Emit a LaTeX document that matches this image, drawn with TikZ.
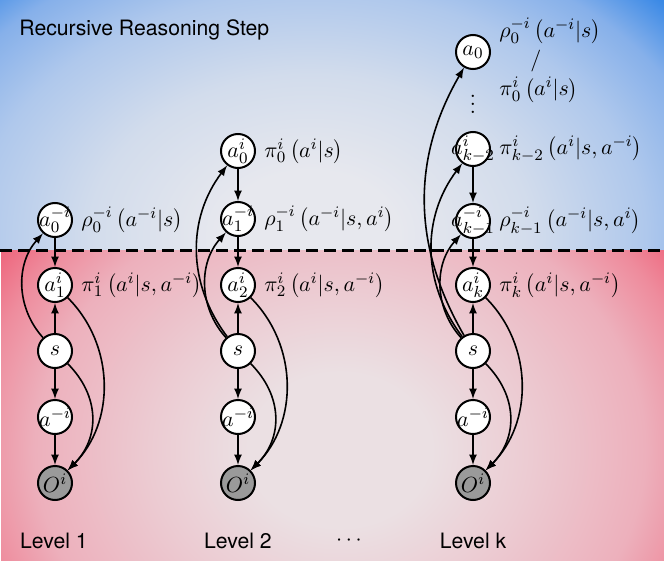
\documentclass[tikz,border=0pt,11pt]{standalone}
\usepackage{fontspec}
\setsansfont{TeX Gyre Heros}
\usetikzlibrary{positioning}

\definecolor{skyin}{HTML}{E7E8EE}
\definecolor{skylow}{HTML}{D2DCEC}
\definecolor{skymid}{HTML}{AFC8EC}
\definecolor{skyhigh}{HTML}{86B0EA}
\definecolor{skyout}{HTML}{3A89E6}
\definecolor{rosein}{HTML}{EBE0E3}
\definecolor{roselow}{HTML}{ECCBD2}
\definecolor{rosemid}{HTML}{EDB0BC}
\definecolor{rosehigh}{HTML}{EE8C9D}
\definecolor{roseout}{HTML}{EE5A73}
\definecolor{obsgray}{HTML}{9A9A9A}

\pgfdeclareradialshading{skyshade}{\pgfpoint{0bp}{0bp}}{%
  color(0bp)=(skyin); color(10bp)=(skyin); color(25bp)=(skylow);
  color(38bp)=(skymid); color(47bp)=(skyhigh); color(54bp)=(skyout);
  color(72bp)=(skyout)}
\pgfdeclareradialshading{roseshade}{\pgfpoint{0bp}{0bp}}{%
  color(0bp)=(rosein); color(12bp)=(rosein); color(25bp)=(roselow);
  color(40bp)=(rosemid); color(48bp)=(rosehigh); color(56bp)=(roseout);
  color(72bp)=(roseout)}

\newcommand{\inring}[1]{\makebox[0pt]{$#1$}}

\begin{document}
\begin{tikzpicture}
        [x=0.5pt,y=-0.5pt,
        nodedecorate/.style={shape=circle,inner sep=0pt,minimum size=17pt,draw,line width=1pt,fill=white},%
        observed/.style={nodedecorate,fill=obsgray},%
        arrowdecorate/.style={->,>=latex,thick},%
        leveltext/.style={font=\sffamily\fontsize{10.6}{13}\selectfont}]
        \useasboundingbox (0,0) rectangle (664,562);
        %% background
        \begin{scope}
          \clip (0,0) rectangle (664,250);
          \begin{scope}[shift={(310,235)},xscale=4.4,yscale=3.2]
            \node (skyglow) [transform shape,inner sep=0pt] at (0,0) {\pgfuseshading{skyshade}};
          \end{scope}
        \end{scope}
        \begin{scope}
          \clip (1,250) rectangle (664,560);
          \begin{scope}[shift={(340,450)},xscale=3.8,yscale=3.2]
            \node (roseglow) [transform shape,inner sep=0pt] at (0,0) {\pgfuseshading{roseshade}};
          \end{scope}
        \end{scope}
        \coordinate (splitwest) at (0,250);
        \coordinate (spliteast) at (664,250);
        \draw[line width=1.5pt,dash pattern=on 6pt off 3pt] (splitwest) -- (spliteast);

        %% nodes or vertices
        \foreach \nodename/\x/\y/\nodetext in {r10/55/220/{a_0^{-i}}, a11/55/285/{a_1^i},
          s1/55/351/s, m1/55/417/{a^{-i}}, a20/238/151/{a_0^i}, r21/238/219/{a_1^{-i}},
          a22/238/285/{a_2^i}, s2/238/351/s, m2/238/417/{a^{-i}}, ak0/473/52/{a_0},
          akk2/473/149/{a_{k-2}^i}, rkk1/473/221/{a_{k-1}^{-i}}, akk/473/285/{a_k^i},
          sk/473/351/s, mk/473/417/{a^{-i}}}
        {
          \node (\nodename) at (\x,\y) [nodedecorate] {\inring{\nodetext}};
        }
        \foreach \nodename/\x in {o1/55, o2/238, ok/473}
        {
          \node (\nodename) at (\x,483) [observed] {\inring{O^i}};
        }
        \node (vdots) at (473,98) [inner sep=0pt] {$\vdots$};

        %% policy labels
        \foreach \nodename/\labeltext in {r10/{$\rho_0^{-i}\left(a^{-i}|s\right)$},
          a11/{$\pi_1^i\left(a^i|s,a^{-i}\right)$}, a20/{$\pi_0^i\left(a^i|s\right)$},
          r21/{$\rho_1^{-i}\left(a^{-i}|s,a^i\right)$}, a22/{$\pi_2^i\left(a^i|s,a^{-i}\right)$},
          akk2/{$\pi_{k-2}^i\left(a^i|s,a^{-i}\right)$}, rkk1/{$\rho_{k-1}^{-i}\left(a^{-i}|s,a^i\right)$},
          akk/{$\pi_k^i\left(a^i|s,a^{-i}\right)$}}
        {
          \node (\nodename-label) [right=3pt of \nodename,inner sep=1pt] {\labeltext};
        }
        \node (ak0-label) [right=3pt of ak0,inner sep=1pt,yshift=-4pt,align=left]
          {$\rho_0^{-i}\left(a^{-i}|s\right)$\\[1pt]\hspace{15.5pt}$/$\\[1pt]$\pi_0^i\left(a^i|s\right)$};

        %% edges or lines
        \path
        \foreach \startnode/\endnode in {r10/a11, s1/a11, s1/m1, m1/o1, a20/r21, r21/a22,
          s2/a22, s2/m2, m2/o2, akk2/rkk1, rkk1/akk, sk/akk, sk/mk, mk/ok}
        {
          (\startnode) edge[arrowdecorate] (\endnode)
        };
        \path
        \foreach \startnode/\endnode/\bend/\loose in {s1/r10/42/1, a11/o1/45/1, s1/o1/45/1.1,
          s2/r21/42/1, s2/a20/37/1, a22/o2/45/1, s2/o2/45/1.1, sk/rkk1/42/1, sk/akk2/37/1,
          sk/ak0/30/1, akk/ok/45/1, sk/ok/45/1.1}
        {
          (\startnode) edge[arrowdecorate,bend left=\bend,looseness=\loose] (\endnode)
        };

        %% captions
        \node (headline) [anchor=west,inner sep=0pt,leveltext] at (19,30) {Recursive Reasoning Step};
        \foreach \levelname/\x/\leveltitle in {level1/54/Level 1, level2/238/Level 2, levelk/473/Level k}
        {
          \node (\levelname) at (\x,541) [leveltext] {\leveltitle};
        }
        \node (leveldots) at (349,541) {$\cdots$};
      \end{tikzpicture}
\end{document}
